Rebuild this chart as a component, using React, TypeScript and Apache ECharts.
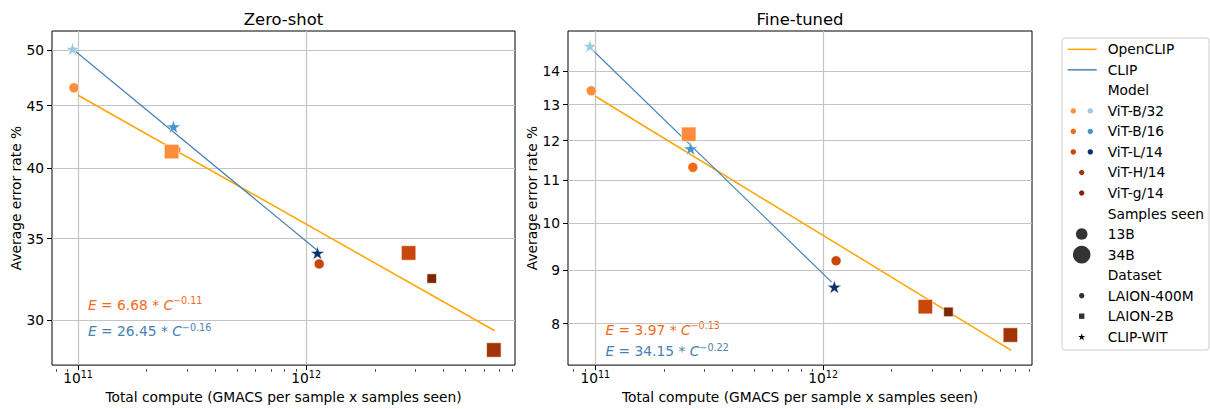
import React, { useEffect, useRef } from 'react';
import * as echarts from 'echarts';

// ---------------- data ----------------
const models = ['ViT-B/32', 'ViT-B/16', 'ViT-L/14', 'ViT-H/14', 'ViT-g/14'];
const clipModels = ['ViT-B/32', 'ViT-B/16', 'ViT-L/14'];
const samplesSeen = ['13B', '34B'];
const datasets = ['LAION-400M', 'LAION-2B', 'CLIP-WIT'];

// OpenCLIP runs
const ocModel = ['ViT-B/32', 'ViT-B/16', 'ViT-B/16', 'ViT-L/14', 'ViT-L/14', 'ViT-g/14', 'ViT-H/14'];
const ocDataset = ['LAION-400M', 'LAION-400M', 'LAION-2B', 'LAION-400M', 'LAION-2B', 'LAION-2B', 'LAION-2B'];
const ocSamples = ['13B', '13B', '34B', '13B', '34B', '13B', '34B'];
const ocCompute = [9.6e10, 2.68e11, 2.57e11, 1.14e12, 2.81e12, 3.55e12, 6.64e12];
const ocZeroShot = [46.55, 41.4, 41.26, 33.36, 34.06, 32.45, 28.35];
const ocFineTuned = [13.4, 11.31, 12.17, 9.195, 8.306, 8.21, 7.8];

// CLIP runs (CLIP-WIT, 13B samples)
const clipCompute = [9.47e10, 2.62e11, 1.12e12];
const clipZeroShot = [50.1, 43.25, 34.06];
const clipFineTuned = [14.8, 11.79, 8.677];

// fitted power laws (end points of the drawn fit lines)
const ocFitCompute = [1.0e11, 6.7e12];
const ocFitZeroShot = [45.9, 29.4];
const ocFitFineTuned = [13.24, 7.54];
const clipFitComputeZS = [9.47e10, 1.11e12];
const clipFitZeroShot = [50.1, 34.27];
const clipFitComputeFT = [9.47e10, 1.09e12];
const clipFitFineTuned = [14.75, 8.77];

const eqZeroShot = { openclip: ['6.68', '−0.11'], clip: ['26.45', '−0.16'] };
const eqFineTuned = { openclip: ['3.97', '−0.13'], clip: ['34.15', '−0.22'] };

// axis ticks
const xMajorTicks = [1e11, 1e12];
const xMinorTicks = [8e10, 9e10, 2e11, 3e11, 4e11, 5e11, 6e11, 7e11, 8e11, 9e11, 2e12, 3e12, 4e12, 5e12, 6e12, 7e12, 8e12];
const zsTicks = [30, 35, 40, 45, 50];
const ftTicks = [8, 9, 10, 11, 12, 13, 14];

// ---------------- style ----------------
const FONT = 'DejaVu Sans';
const FS = 13.8;
const OC_LINE = '#ffa500';
const CLIP_LINE = '#4682b4';
const OC_EQ = '#f26b1d';
const CLIP_EQ = '#4682b4';
const OC_COLORS: Record<string, string> = {
  'ViT-B/32': '#fd8d3c',
  'ViT-B/16': '#f16913',
  'ViT-L/14': '#c9470b',
  'ViT-H/14': '#a13505',
  'ViT-g/14': '#7f2704',
};
const OC_POINT_COLOR_OVERRIDE: Record<number, string> = { 2: '#fd8d3c' };
const CLIP_COLORS: Record<string, string> = {
  'ViT-B/32': '#9ecae1',
  'ViT-B/16': '#4695c8',
  'ViT-L/14': '#08306b',
};
const GRID_COLOR = '#c4c4c4';
const STAR =
  'path://M10,0L12.245,6.91L19.511,6.91L13.633,11.18L15.878,18.09L10,13.82L4.122,18.09L6.367,11.18L0.489,6.91L7.755,6.91Z';

const panels = [
  {
    title: 'Zero-shot',
    grid: { left: 52, top: 31, width: 463, height: 338 },
    xMin: Math.pow(10, 10.886),
    xMax: Math.pow(10, 12.915),
    yMin: 27.55,
    yMax: 51.83,
    yTicks: zsTicks,
    oc: ocZeroShot,
    clip: clipZeroShot,
    ocFit: ocFitZeroShot,
    clipFitX: clipFitComputeZS,
    clipFit: clipFitZeroShot,
    eq: eqZeroShot,
    eqPos: { x: 88, yOc: 303.5, yClip: 330 },
    nameGap: 28,
  },
  {
    title: 'Fine-tuned',
    grid: { left: 568, top: 31, width: 464, height: 338 },
    xMin: Math.pow(10, 10.88),
    xMax: Math.pow(10, 12.917),
    yMin: 7.297,
    yMax: 15.3,
    yTicks: ftTicks,
    oc: ocFineTuned,
    clip: clipFineTuned,
    ocFit: ocFitFineTuned,
    clipFitX: clipFitComputeFT,
    clipFit: clipFitFineTuned,
    eq: eqFineTuned,
    eqPos: { x: 605.5, yOc: 328.5, yClip: 350 },
    nameGap: 26,
  },
];

function starPoints(cx: number, cy: number, R: number) {
  const pts: number[][] = [];
  const r = R * 0.382;
  for (let i = 0; i < 10; i++) {
    const a = (-90 + i * 36) * (Math.PI / 180);
    const rr = i % 2 === 0 ? R : r;
    pts.push([cx + rr * Math.cos(a), cy + rr * Math.sin(a)]);
  }
  return pts;
}

function eqText(x: number, y: number, coef: string, exp: string, color: string) {
  const base = { fontSize: FS, fontFamily: FONT, lineHeight: 16, verticalAlign: 'bottom', fill: color };
  return {
    type: 'text',
    x,
    y,
    silent: true,
    style: {
      text: `{i|E}{n| = ${coef} * }{i|C}{s|${exp}}`,
      align: 'left',
      verticalAlign: 'middle',
      fill: color,
      fontFamily: FONT,
      fontSize: FS,
      rich: {
        i: { ...base, fontStyle: 'italic' },
        n: { ...base },
        s: { fontSize: 9.6, fontFamily: FONT, lineHeight: 10, verticalAlign: 'top', fill: color },
      },
    },
  };
}

function buildLegend() {
  const x0 = 1062;
  const y0 = 38;
  const rowH = 20.53;
  const row0 = 49.3;
  const textX = 1107.7;
  const children: any[] = [
    {
      type: 'rect',
      shape: { x: x0, y: y0, width: 147, height: 312, r: 3 },
      style: { fill: '#fff', stroke: '#cccccc', lineWidth: 1 },
    },
  ];
  const rows: any[] = [];
  rows.push({ kind: 'line', color: OC_LINE, label: 'OpenCLIP' });
  rows.push({ kind: 'line', color: CLIP_LINE, label: 'CLIP' });
  rows.push({ kind: 'header', label: 'Model' });
  models.forEach((m) => {
    const c2 = clipModels.includes(m) ? CLIP_COLORS[m] : null;
    rows.push({ kind: 'model', c1: OC_COLORS[m], c2, label: m });
  });
  rows.push({ kind: 'header', label: 'Samples seen' });
  samplesSeen.forEach((s, i) => rows.push({ kind: 'size', r: i === 0 ? 5.8 : 8.8, label: s }));
  rows.push({ kind: 'header', label: 'Dataset' });
  datasets.forEach((d, i) => rows.push({ kind: 'ds', shape: ['circle', 'square', 'star'][i], label: d }));

  const mark = '#333333';
  rows.forEach((row, i) => {
    const cy = row0 + i * rowH;
    children.push({
      type: 'text',
      x: textX,
      y: cy,
      style: { text: row.label, fill: '#000', fontFamily: FONT, fontSize: FS, align: 'left', verticalAlign: 'middle' },
    });
    if (row.kind === 'line') {
      children.push({
        type: 'line',
        shape: { x1: 1067.7, y1: cy, x2: 1096.7, y2: cy },
        style: { stroke: row.color, lineWidth: 1.5 },
      });
    } else if (row.kind === 'model') {
      if (row.c2) {
        children.push({ type: 'circle', shape: { cx: 1073.3, cy, r: 2.7 }, style: { fill: row.c1 } });
        children.push({ type: 'circle', shape: { cx: 1090.3, cy, r: 2.7 }, style: { fill: row.c2 } });
      } else {
        children.push({ type: 'circle', shape: { cx: 1081.7, cy, r: 2.7 }, style: { fill: row.c1 } });
      }
    } else if (row.kind === 'size') {
      children.push({ type: 'circle', shape: { cx: 1081.7, cy, r: row.r }, style: { fill: mark } });
    } else if (row.kind === 'ds') {
      if (row.shape === 'circle') {
        children.push({ type: 'circle', shape: { cx: 1081.7, cy, r: 2.7 }, style: { fill: mark } });
      } else if (row.shape === 'square') {
        children.push({ type: 'rect', shape: { x: 1079, y: cy - 2.7, width: 5.4, height: 5.4 }, style: { fill: mark } });
      } else {
        children.push({ type: 'polygon', shape: { points: starPoints(1081.7, cy + 0.4, 3.8) }, style: { fill: '#000' } });
      }
    }
  });
  return { type: 'group', children };
}

function buildOption() {
  const grid: any[] = [];
  const xAxis: any[] = [];
  const yAxis: any[] = [];
  const series: any[] = [];
  const graphic: any[] = [];

  // main grids / axes: indices 0,1 ; minor-tick overlays: indices 2,3
  panels.forEach((p, pi) => {
    grid[pi] = { ...p.grid, show: true, borderColor: '#000', borderWidth: 1, backgroundColor: 'transparent' };
    grid[2 + pi] = { ...p.grid, show: false };

    xAxis[pi] = {
      gridIndex: pi,
      type: 'log',
      logBase: 10,
      min: p.xMin,
      max: p.xMax,
      axisLine: { show: false },
      axisTick: { show: true, customValues: xMajorTicks, length: 5, lineStyle: { color: '#000', width: 1 } },
      axisLabel: {
        customValues: xMajorTicks,
        margin: 4,
        color: '#000',
        formatter: (v: number) => `{b|10}{s|${Math.round(Math.log10(v))}}`,
        rich: {
          b: { fontSize: FS, fontFamily: FONT, lineHeight: 16, verticalAlign: 'bottom', color: '#000' },
          s: { fontSize: 9.6, fontFamily: FONT, lineHeight: 10, verticalAlign: 'top', color: '#000' },
        },
      },
      splitLine: { show: true, lineStyle: { color: GRID_COLOR, width: 1.2 } },
      name: 'Total compute (GMACS per sample x samples seen)',
      nameLocation: 'middle',
      nameGap: 22,
      nameTextStyle: { color: '#000', fontSize: FS, fontFamily: FONT },
    };
    xAxis[2 + pi] = {
      gridIndex: 2 + pi,
      type: 'log',
      logBase: 10,
      min: p.xMin,
      max: p.xMax,
      axisLine: { show: false },
      axisTick: { show: true, customValues: xMinorTicks, length: 2.8, lineStyle: { color: '#000', width: 0.7 } },
      axisLabel: { show: false, customValues: xMinorTicks },
      splitLine: { show: false },
    };
    yAxis[pi] = {
      gridIndex: pi,
      type: 'log',
      logBase: 10,
      min: p.yMin,
      max: p.yMax,
      axisLine: { show: false },
      axisTick: { show: true, customValues: p.yTicks, length: 5, lineStyle: { color: '#000', width: 1 } },
      axisLabel: {
        customValues: p.yTicks,
        margin: 8,
        color: '#000',
        fontSize: FS,
        fontFamily: FONT,
        formatter: (v: number) => String(Math.round(v)),
      },
      splitLine: { show: true, lineStyle: { color: GRID_COLOR, width: 1.2 } },
      name: 'Average error rate %',
      nameLocation: 'middle',
      nameRotate: 90,
      nameGap: p.nameGap,
      nameTextStyle: { color: '#000', fontSize: FS, fontFamily: FONT },
    };
    yAxis[2 + pi] = { gridIndex: 2 + pi, type: 'value', show: false, min: 0, max: 1 };

    // fit lines
    series.push({
      type: 'line',
      xAxisIndex: pi,
      yAxisIndex: pi,
      data: ocFitCompute.map((x, i) => [x, p.ocFit[i]]),
      symbol: 'none',
      lineStyle: { color: OC_LINE, width: 1.5 },
      silent: true,
      z: 2,
    });
    series.push({
      type: 'line',
      xAxisIndex: pi,
      yAxisIndex: pi,
      data: p.clipFitX.map((x, i) => [x, p.clipFit[i]]),
      symbol: 'none',
      lineStyle: { color: CLIP_LINE, width: 1.2 },
      silent: true,
      z: 2,
    });
    // OpenCLIP points
    series.push({
      type: 'scatter',
      xAxisIndex: pi,
      yAxisIndex: pi,
      z: 3,
      data: ocCompute.map((x, i) => {
        const sq = ocDataset[i] === 'LAION-2B';
        const big = ocSamples[i] === '34B';
        const size = sq ? (big ? 14.5 : 9.5) : big ? 14 : 10;
        const color = OC_POINT_COLOR_OVERRIDE[i] || OC_COLORS[ocModel[i]];
        return {
          value: [x, p.oc[i]],
          symbol: sq ? 'rect' : 'circle',
          symbolSize: size,
          itemStyle: { color, opacity: 1, borderColor: '#fff', borderWidth: 0.6 },
        };
      }),
    });
    // CLIP points
    series.push({
      type: 'scatter',
      xAxisIndex: pi,
      yAxisIndex: pi,
      z: 4,
      data: clipCompute.map((x, i) => ({
        value: [x, p.clip[i]],
        symbol: STAR,
        symbolSize: [14, 13.3],
        itemStyle: { color: CLIP_COLORS[clipModels[i]], opacity: 1, borderColor: '#fff', borderWidth: 0.5 },
      })),
    });

    // titles and equations
    const cx = p.grid.left + p.grid.width / 2;
    graphic.push({
      type: 'text',
      x: cx,
      y: 19.5,
      style: { text: p.title, fill: '#000', fontFamily: FONT, fontSize: 16.4, align: 'center', verticalAlign: 'middle' },
    });
    graphic.push(eqText(p.eqPos.x, p.eqPos.yOc, p.eq.openclip[0], p.eq.openclip[1], OC_EQ));
    graphic.push(eqText(p.eqPos.x, p.eqPos.yClip, p.eq.clip[0], p.eq.clip[1], CLIP_EQ));
  });

  graphic.push(buildLegend());

  return {
    animation: false,
    backgroundColor: '#fff',
    textStyle: { fontFamily: FONT },
    grid,
    xAxis,
    yAxis,
    series,
    graphic,
  };
}

export default function App() {
  const ref = useRef<HTMLDivElement>(null);
  useEffect(() => {
    if (!ref.current) return;
    const chart = echarts.init(ref.current, null, { renderer: 'svg' });
    chart.setOption(buildOption() as any);
    return () => chart.dispose();
  }, []);
  return <div ref={ref} style={{ position: 'absolute', left: 0, top: 0, width: 1210, height: 409 }} />;
}
